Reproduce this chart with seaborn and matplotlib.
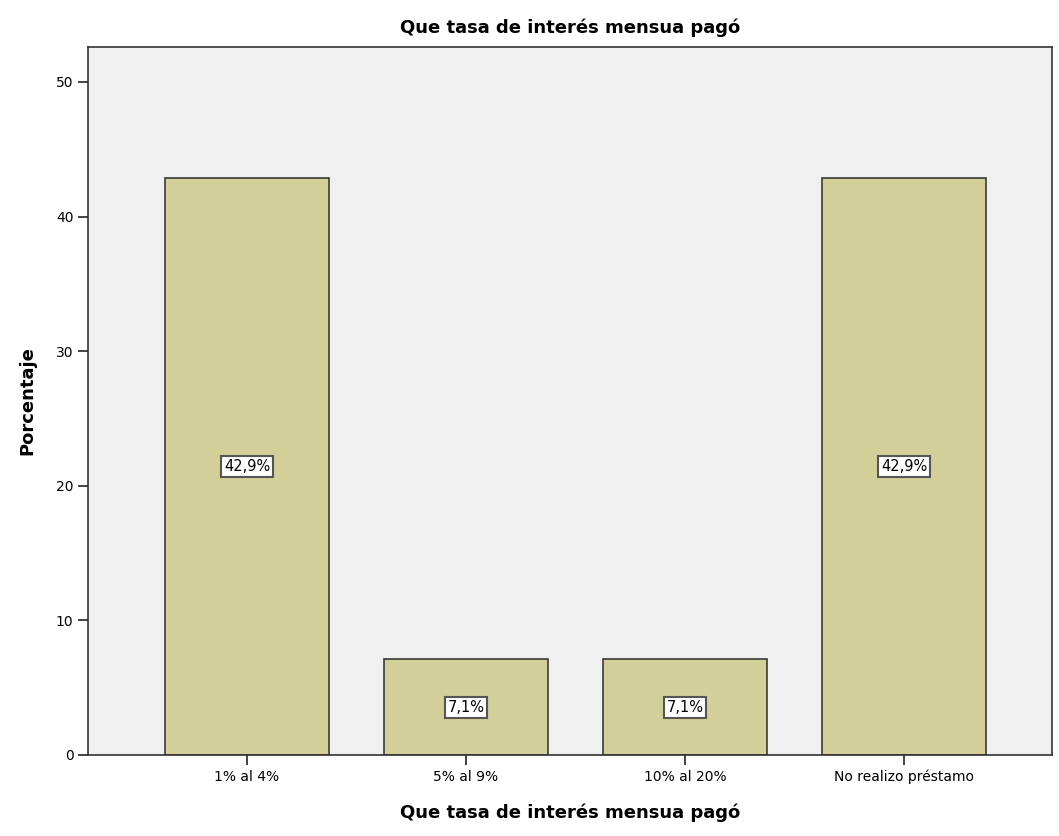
import matplotlib
matplotlib.use('Agg')
import matplotlib.pyplot as plt
import seaborn as sns
import pandas as pd

categorias = ['1% al 4%', '5% al 9%', '10% al 20%', 'No realizo préstamo']
porcentajes = [42.9, 7.1, 7.1, 42.9]
etiquetas = ['42,9%', '7,1%', '7,1%', '42,9%']

df = pd.DataFrame({'categoria': categorias, 'porcentaje': porcentajes})

sns.set_style('white')
plt.rcParams['font.family'] = ['DejaVu Sans']
plt.rcParams['text.color'] = 'black'
plt.rcParams['axes.labelcolor'] = 'black'

fig = plt.figure(figsize=(10.59, 8.36), dpi=100)
ax = fig.add_axes([88 / 1059, 1 - 755 / 836, (1052 - 88) / 1059, (755 - 47) / 836])
ax.set_facecolor('#f0f0f0')

sns.barplot(data=df, x='categoria', y='porcentaje', color='#d3cf98',
            edgecolor='#3a3a3a', linewidth=1.2, width=0.75, saturation=1, ax=ax)

for i, (v, txt) in enumerate(zip(porcentajes, etiquetas)):
    ax.text(i, v / 2, txt, ha='center', va='center', fontsize=10.5, color='black',
            bbox=dict(boxstyle='square,pad=0.2', facecolor='white',
                      edgecolor='#555555', linewidth=1.5))

ax.set_xlim(-0.726, 3.676)
ax.set_ylim(0, 52.6)
ax.set_yticks([0, 10, 20, 30, 40, 50])
ax.tick_params(axis='both', direction='out', length=7, width=1.2,
               colors='#222222', labelcolor='black', labelsize=10, left=True, bottom=True)
for s in ax.spines.values():
    s.set_color('#333333')
    s.set_linewidth(1.2)

ax.set_xlabel('Que tasa de interés mensua pagó', fontsize=13, fontweight='bold', labelpad=14)
ax.set_ylabel('Porcentaje', fontsize=13, fontweight='bold', labelpad=14)
ax.set_title('Que tasa de interés mensua pagó', fontsize=13, fontweight='bold', pad=10)

fig.savefig('out.png', dpi=100)
